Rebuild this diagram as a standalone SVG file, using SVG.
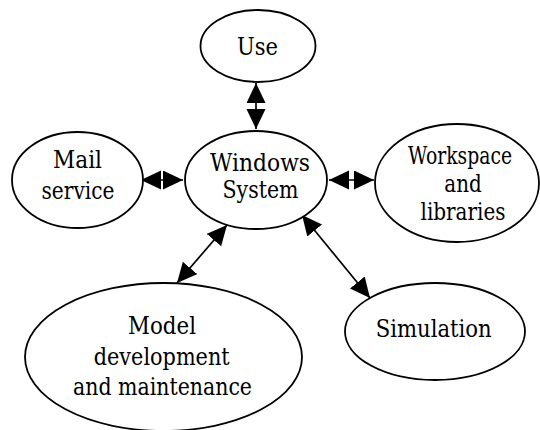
<svg xmlns="http://www.w3.org/2000/svg" width="540" height="430" viewBox="0 0 540 430">
<style>
.n ellipse{fill:#fff;stroke:#000;stroke-width:1.8}
.n text{font-family:'DejaVu Serif','Liberation Serif','Times New Roman',serif;font-size:25px;fill:#000;text-anchor:middle}
.c line{stroke:#000;stroke-width:1.7;marker-start:url(#ah);marker-end:url(#ah)}
</style>
<defs>
<marker id="ah" markerUnits="userSpaceOnUse" markerWidth="21" markerHeight="20" refX="20" refY="9.5" orient="auto-start-reverse" viewBox="0 0 21 20">
<path d="M0,0 L20,9.5 L0,19 z" fill="#000"/>
</marker>
</defs>
<rect width="540" height="430" fill="#fff"/>
<g id="connectors" class="c">
<line x1="256" y1="83" x2="256" y2="129"/>
<line x1="141" y1="180" x2="183" y2="180"/>
<line x1="329" y1="180" x2="374" y2="180"/>
<line x1="227" y1="225" x2="177" y2="283"/>
<line x1="302" y1="215" x2="370" y2="298"/>
</g>
<g id="use" class="n">
<ellipse cx="258" cy="46" rx="57.5" ry="36"/>
<text x="257.5" y="55" textLength="41" lengthAdjust="spacingAndGlyphs">Use</text>
</g>
<g id="windows" class="n">
<ellipse cx="256" cy="180" rx="71" ry="49"/>
<text x="260" y="171" textLength="100" lengthAdjust="spacingAndGlyphs">Windows</text>
<text x="260.5" y="198" textLength="76" lengthAdjust="spacingAndGlyphs">System</text>
</g>
<g id="mail" class="n">
<ellipse cx="77.5" cy="180" rx="65.5" ry="48"/>
<text x="77.5" y="168" textLength="49" lengthAdjust="spacingAndGlyphs">Mail</text>
<text x="78" y="199" textLength="73" lengthAdjust="spacingAndGlyphs">service</text>
</g>
<g id="workspace" class="n">
<ellipse cx="457" cy="183" rx="82" ry="59"/>
<text x="460" y="164" textLength="104" lengthAdjust="spacingAndGlyphs">Workspace</text>
<text x="463" y="192" textLength="37.5" lengthAdjust="spacingAndGlyphs">and</text>
<text x="463" y="220" textLength="85" lengthAdjust="spacingAndGlyphs">libraries</text>
</g>
<g id="model" class="n">
<ellipse cx="163.5" cy="357" rx="138.5" ry="74"/>
<text x="162" y="334" textLength="68" lengthAdjust="spacingAndGlyphs">Model</text>
<text x="161.7" y="365" textLength="136" lengthAdjust="spacingAndGlyphs">development</text>
<text x="162.5" y="395" textLength="179" lengthAdjust="spacingAndGlyphs">and maintenance</text>
</g>
<g id="simulation" class="n">
<ellipse cx="435" cy="331.5" rx="90" ry="48.5"/>
<text x="433.7" y="337" textLength="116" lengthAdjust="spacingAndGlyphs">Simulation</text>
</g>
</svg>
